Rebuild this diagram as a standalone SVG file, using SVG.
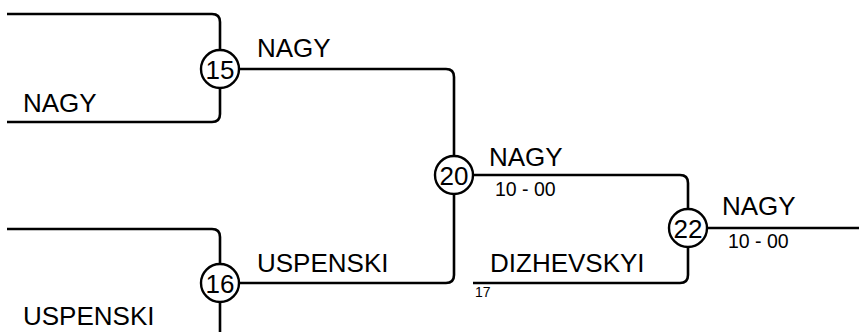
<svg xmlns="http://www.w3.org/2000/svg" width="859" height="332" viewBox="0 0 859 332">
<style>
.ln{fill:none;stroke:#000;stroke-width:2.6}
.nd{fill:#fff;stroke:#000;stroke-width:2.4}
.num{font-family:"Liberation Sans",Arial,sans-serif;font-size:26px;text-anchor:middle;fill:#000}
.nm{font-family:"Liberation Sans",Arial,sans-serif;font-size:26px;fill:#000}
.sc{font-family:"Liberation Sans",Arial,sans-serif;font-size:19.5px;fill:#000}
.sm{font-family:"Liberation Sans",Arial,sans-serif;font-size:14px;fill:#000}
</style>
<rect width="859" height="332" fill="#fff"/>
<g id="connectors">
<path class="ln" d="M7,14 H212 Q220,14 220,22 V114 Q220,122 212,122 H7"/>
<path class="ln" d="M7,229 H212 Q220,229 220,237 V340"/>
<path class="ln" d="M220,69 H446 Q454,69 454,77 V275 Q454,283 446,283 H220"/>
<path class="ln" d="M454,175 H680 Q688,175 688,183 V275 Q688,283 680,283 H473"/>
<path class="ln" d="M688,228 H859"/>
</g>
<g id="n15"><circle class="nd" cx="220" cy="69" r="19"/><text class="num" x="220" y="78.5">15</text></g>
<g id="n16"><circle class="nd" cx="220" cy="283" r="19"/><text class="num" x="220" y="292.5">16</text></g>
<g id="n20"><circle class="nd" cx="454" cy="175" r="19"/><text class="num" x="454" y="184.5">20</text></g>
<g id="n22"><circle class="nd" cx="688" cy="228" r="19"/><text class="num" x="688" y="237.5">22</text></g>
<g id="labels">
<text class="nm" x="23" y="112">NAGY</text>
<text class="nm" x="23" y="325">USPENSKI</text>
<text class="nm" x="257" y="57">NAGY</text>
<text class="nm" x="257" y="272">USPENSKI</text>
<text class="nm" x="489" y="166">NAGY</text>
<text class="sc" x="495" y="196">10 - 00</text>
<text class="nm" x="490" y="272">DIZHEVSKYI</text>
<text class="sm" x="475" y="297">17</text>
<text class="nm" x="722" y="215">NAGY</text>
<text class="sc" x="728" y="248">10 - 00</text>
</g>
</svg>
